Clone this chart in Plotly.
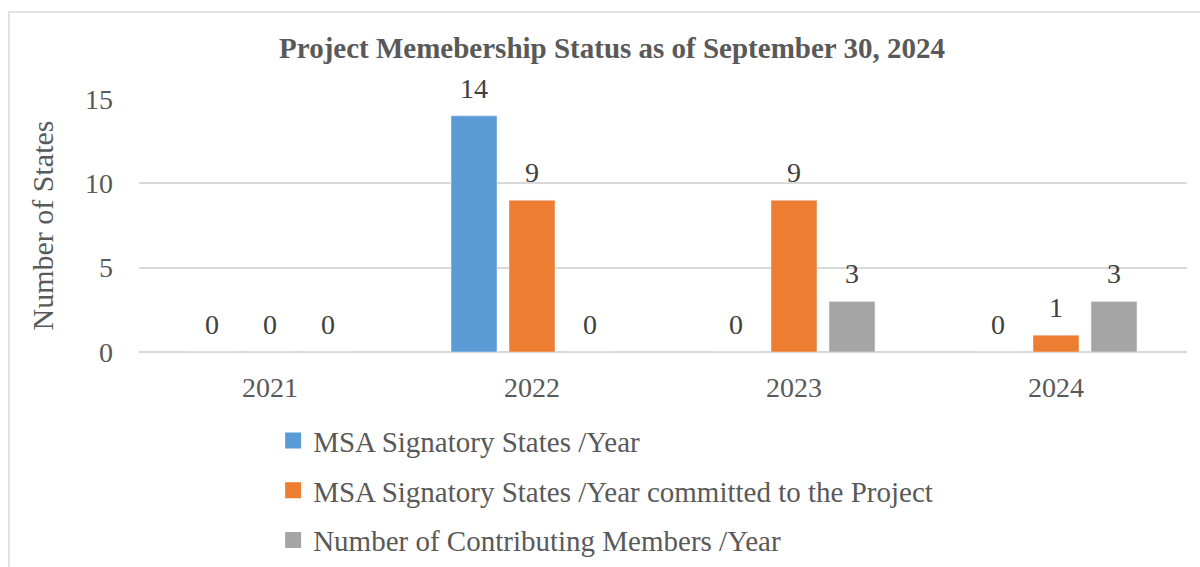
import plotly.graph_objects as go

years = ["2021", "2022", "2023", "2024"]
msa_signatory = [0, 14, 0, 0]
msa_committed = [0, 9, 9, 1]
contributing = [0, 0, 3, 3]

series_names = [
    "MSA Signatory States /Year",
    "MSA Signatory States /Year committed to the Project",
    "Number of Contributing Members /Year",
]
colors = ["#5B9BD5", "#ED7D31", "#A5A5A5"]
FONT = "Liberation Serif, Times New Roman, serif"
series_values = [msa_signatory, msa_committed, contributing]

fig = go.Figure()
for i, (name, vals, col) in enumerate(zip(series_names, series_values, colors)):
    fig.add_trace(go.Bar(
        x=years, y=vals, name=name, marker_color=col,
        showlegend=False, hoverinfo="x+y+name",
    ))
# legend entries with larger square swatches
for i, (name, col) in enumerate(zip(series_names, colors)):
    fig.add_trace(go.Scatter(
        x=[years[0]], y=[None], mode="markers", name=name,
        marker=dict(symbol="square", size=17, color=col),
        legendgroup=f"g{i}", showlegend=True, hoverinfo="skip",
    ))

# value labels above each bar (x given as category index on the category axis)
slot_px = 58
annotations = []
for i, vals in enumerate(series_values):
    for k, v in enumerate(vals):
        annotations.append(dict(
            x=k, y=v, xref="x", yref="y", text=str(v), showarrow=False,
            xshift=(i - 1) * slot_px, yanchor="bottom", yshift=10,
            font=dict(family=FONT, size=28, color="#404040"),
        ))

fig.update_layout(
    width=1200, height=567,
    margin=dict(l=139, r=13, t=99, b=215, autoexpand=False),
    paper_bgcolor="white", plot_bgcolor="white",
    barmode="group", bargap=0.336, bargroupgap=0.207,
    font=dict(family=FONT, color="#595959", size=28),
    title=dict(
        text="<b>Project Memebership Status as of September 30, 2024</b>",
        x=0.51, xanchor="center", y=1 - 48 / 567, yanchor="middle",
        font=dict(family=FONT, size=29, color="#595959"),
    ),
    showlegend=True,
    legend=dict(
        orientation="v", x=0.128, xanchor="left", y=-0.25, yanchor="top",
        font=dict(family=FONT, size=29, color="#595959"),
        tracegroupgap=9, bgcolor="rgba(0,0,0,0)", itemsizing="trace",
    ),
    xaxis=dict(
        type="category", categoryorder="array", categoryarray=years,
        range=[-0.5, len(years) - 0.5],
        showgrid=False, showline=False, ticks="", automargin=False,
        tickfont=dict(family=FONT, size=28, color="#595959"),
        ticklabelstandoff=16,
    ),
    yaxis=dict(
        range=[0, 15], tickvals=[0, 5, 10, 15], showgrid=True, automargin=False,
        gridcolor="#D9D9D9", gridwidth=1.5, zeroline=True, zerolinecolor="#D9D9D9",
        zerolinewidth=1.5, showline=False, ticks="",
        tickfont=dict(family=FONT, size=28, color="#595959"),
        ticklabelstandoff=25,
        title=dict(text="Number of States", standoff=22,
                   font=dict(family=FONT, size=30, color="#595959")),
    ),
    annotations=annotations,
    shapes=[dict(
        type="rect", xref="paper", yref="paper",
        x0=(9 - 139) / 1048, x1=1.05, y0=-1.0, y1=(352 - 12) / 253,
        line=dict(color="#D9D9D9", width=1.5), fillcolor="rgba(0,0,0,0)", layer="below",
    )],
)

fig.write_html("out.html", config={"displayModeBar": False},
               post_script="document.body.style.margin='0';")
